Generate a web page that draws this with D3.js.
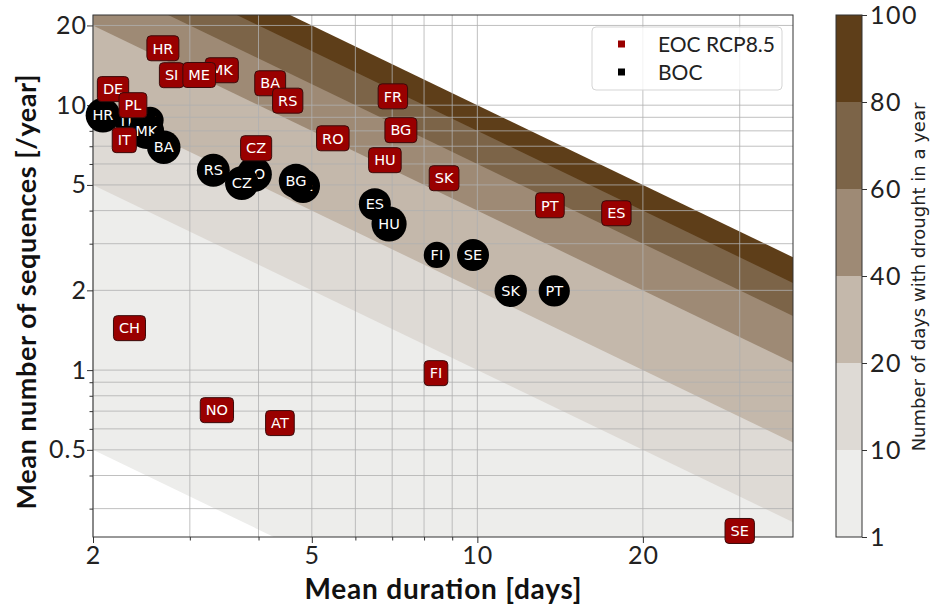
<!DOCTYPE html>
<html><head><meta charset="utf-8">
<script src="https://cdn.jsdelivr.net/npm/d3@7"></script>
<style>body{margin:0;background:#fff}</style>
</head><body><svg id="c" width="930" height="607"></svg>
<script>
// ---- data ----
const levels = [1, 10, 20, 40, 60, 80, 100];
const levelColors = ["#ededeb", "#dedad5", "#c4b8ab", "#9e8a75", "#7c6448", "#5e3e19"];
const xTickLabels = [2, 5, 10, 20];
const yTickLabels = [0.5, 1, 2, 5, 10, 20];

const eocCountries = ["CH","DE","PL","IT","HR","SI","MK","ME","BA","RS","CZ","RO","FR","BG","HU","SK","PT","ES","FI","NO","AT","SE"];
const eocDuration  = [2.33,2.175,2.364,2.28,2.68,2.78,3.43,3.12,4.2,4.52,3.96,5.46,7.02,7.26,6.79,8.70,13.55,17.9,8.41,3.36,4.375,30.0];
const eocSequences = [1.44,11.5,10.0,7.38,16.4,12.98,13.55,13.0,12.1,10.4,6.88,7.5,10.8,8.05,6.2,5.30,4.19,3.91,0.974,0.706,0.631,0.247];

const bocCountries = ["IT","SI","HR","MK","BA","RS","RO","CZ","DE","BG","ES","HU","FI","SE","SK","PT"];
const bocDuration  = [2.31,2.54,2.085,2.50,2.69,3.31,3.93,3.73,4.82,4.68,6.51,6.91,8.44,9.82,11.5,13.8];
const bocSequences = [8.77,8.77,9.17,7.98,6.94,5.68,5.49,5.08,4.95,5.17,4.23,3.56,2.72,2.72,1.99,1.99];

const legendLabels = ["EOC RCP8.5", "BOC"];
const xDomain = [2, 37.5];
const yDomain = [0.2344, 21.9];

// ---- layout ----
const L = 93, R = 793, T = 15, B = 537;
const svg = d3.select("#c");
const UIFONT = "Lato, 'Noto Sans', sans-serif";
const MFONT = "'DejaVu Sans', sans-serif";

const x = d3.scaleLog().domain(xDomain).range([L, R]);
const y = d3.scaleLog().domain(yDomain).range([B, T]);

svg.append("defs").append("clipPath").attr("id", "pc")
  .append("rect").attr("x", L).attr("y", T).attr("width", R - L).attr("height", B - T);

const bg = svg.append("g").attr("clip-path", "url(#pc)");
bg.append("rect").attr("x", L).attr("y", T).attr("width", R - L).attr("height", B - T).attr("fill", "#fff");
for (let i = levels.length - 1; i >= 0; i--) {
  const c = levels[i];
  const col = i === 0 ? "#ffffff" : levelColors[i - 1];
  const pts = [
    [x(xDomain[0]), y(c / xDomain[0])],
    [x(xDomain[1]), y(c / xDomain[1])],
    [x(xDomain[1]), y(1e-3)],
    [x(xDomain[0]), y(1e-3)]
  ];
  bg.append("path").attr("d", d3.line()(pts) + "Z").attr("fill", col);
}

// grid
const xt = x.ticks(), yt = y.ticks();
const grid = svg.append("g");
grid.selectAll("line.gx").data(xt).join("line")
  .attr("x1", d => x(d)).attr("x2", d => x(d)).attr("y1", T).attr("y2", B)
  .attr("stroke", "#b0b0b0").attr("stroke-width", 0.8);
grid.selectAll("line.gy").data(yt).join("line")
  .attr("y1", d => y(d)).attr("y2", d => y(d)).attr("x1", L).attr("x2", R)
  .attr("stroke", "#b0b0b0").attr("stroke-width", 0.8);

// axes
const xAxis = svg.append("g").attr("transform", `translate(0,${B})`)
  .call(d3.axisBottom(x).tickValues(xt).tickSizeOuter(0)
    .tickFormat(d => xTickLabels.includes(d) ? d3.format("~g")(d) : ""));
const yAxis = svg.append("g").attr("transform", `translate(${L},0)`)
  .call(d3.axisLeft(y).tickValues(yt).tickSizeOuter(0)
    .tickFormat(d => yTickLabels.includes(d) ? d3.format("~g")(d) : ""));
[xAxis, yAxis].forEach(a => {
  a.select(".domain").remove();
  a.selectAll("text").attr("font-family", UIFONT).attr("font-size", 25)
    .attr("letter-spacing", 1).attr("fill", "#222");
});
xAxis.selectAll(".tick line").attr("y2", d => xTickLabels.includes(d) ? 6 : 3.5).attr("stroke", "#333");
yAxis.selectAll(".tick line").attr("x2", d => yTickLabels.includes(d) ? -6 : -3.5).attr("stroke", "#333");
xAxis.selectAll("text").attr("y", 9);
yAxis.selectAll("text").attr("x", -6);

svg.append("rect").attr("x", L).attr("y", T).attr("width", R - L).attr("height", B - T)
  .attr("fill", "none").attr("stroke", "#333").attr("stroke-width", 1);

svg.append("text").attr("x", 443).attr("y", 599).attr("text-anchor", "middle")
  .attr("font-family", UIFONT).attr("font-weight", "bold").attr("font-size", 28).attr("fill", "#111")
  .attr("textLength", 277).text("Mean duration [days]");
svg.append("text").attr("transform", `translate(36,292) rotate(-90)`).attr("text-anchor", "middle")
  .attr("font-family", UIFONT).attr("font-weight", "bold").attr("font-size", 27).attr("fill", "#111")
  .attr("textLength", 435).text("Mean number of sequences [/year]");

// BOC markers (black circles)
const marks = svg.append("g");
bocCountries.forEach((c, i) => {
  const g = marks.append("g").attr("transform", `translate(${x(bocDuration[i])},${y(bocSequences[i])})`);
  const circ = g.append("circle").attr("fill", "#000");
  const t = g.append("text").attr("text-anchor", "middle").attr("dy", "0.36em")
    .attr("font-family", MFONT).attr("font-size", 14.5).attr("fill", "#fff").text(c);
  const w = t.node().getComputedTextLength();
  circ.attr("r", w / 2 + 6.8);
});
// EOC markers (red boxes)
eocCountries.forEach((c, i) => {
  const g = marks.append("g").attr("transform", `translate(${x(eocDuration[i])},${y(eocSequences[i])})`);
  const rect = g.append("rect").attr("fill", "#990000").attr("stroke", "#3a0b0b").attr("stroke-width", 1).attr("rx", 4);
  const t = g.append("text").attr("text-anchor", "middle").attr("dy", "0.36em")
    .attr("font-family", MFONT).attr("font-size", 14.5).attr("fill", "#fff").text(c);
  const w = t.node().getComputedTextLength();
  rect.attr("x", -(w / 2 + 5.5)).attr("y", -12.5).attr("width", w + 11).attr("height", 25);
});

// legend
const lg = svg.append("g");
lg.append("rect").attr("x", 592).attr("y", 27).attr("width", 190).attr("height", 63).attr("rx", 4)
  .attr("fill", "#fff").attr("fill-opacity", 0.8).attr("stroke", "#d5d5d5");
const legendColors = ["#990000", "#000000"];
legendLabels.forEach((l, i) => {
  const yy = 44 + i * 28;
  lg.append("rect").attr("x", 618).attr("y", yy - 3.5).attr("width", 7).attr("height", 7).attr("fill", legendColors[i]);
  lg.append("text").attr("x", 658).attr("y", yy).attr("dy", "0.36em")
    .attr("font-family", UIFONT).attr("font-size", 21).attr("fill", "#222").text(l);
});

// colorbar
const CX = 836, CW = 26;
const yc = d3.scalePoint().domain(levels).range([B, T]);
const cb = svg.append("g");
for (let i = 0; i < levels.length - 1; i++) {
  cb.append("rect").attr("x", CX).attr("y", yc(levels[i + 1])).attr("width", CW)
    .attr("height", yc(levels[i]) - yc(levels[i + 1])).attr("fill", levelColors[i]);
}
cb.append("rect").attr("x", CX).attr("y", T).attr("width", CW).attr("height", B - T)
  .attr("fill", "none").attr("stroke", "#333").attr("stroke-width", 1);
const cAxis = cb.append("g").attr("transform", `translate(${CX + CW},0)`)
  .call(d3.axisRight(yc).tickSize(5).tickSizeOuter(0).tickPadding(3));
cAxis.select(".domain").remove();
cAxis.selectAll("line").attr("stroke", "#333");
cAxis.selectAll("text").attr("font-family", UIFONT).attr("font-size", 25)
  .attr("letter-spacing", 1.5).attr("fill", "#222");
svg.append("text").attr("transform", `translate(919,277) rotate(-90)`).attr("text-anchor", "middle")
  .attr("dy", "0.36em").attr("font-family", MFONT).attr("font-size", 18).attr("fill", "#222")
  .text("Number of days with drought in a year");
</script></body></html>
